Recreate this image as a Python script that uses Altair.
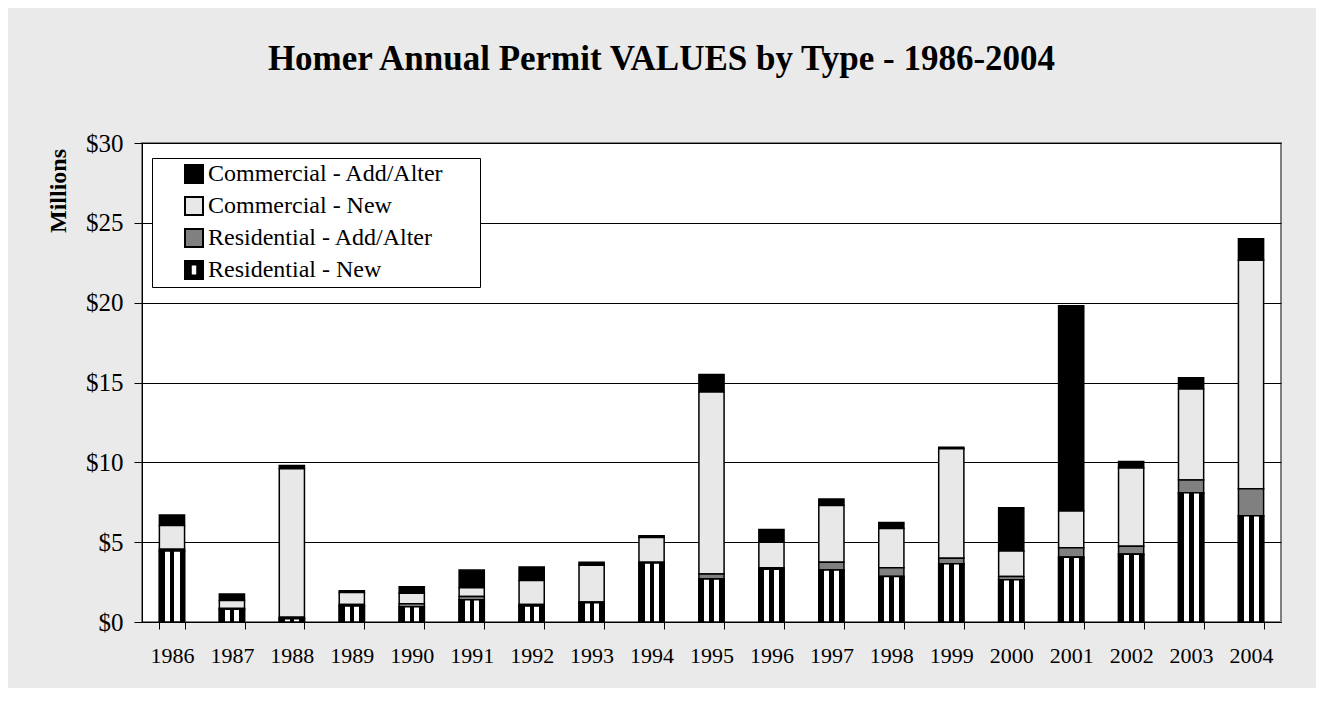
import altair as alt
import pandas as pd

years = [str(y) for y in range(1986, 2005)]
res_new = [4.45, 0.8, 0.2, 1.0, 0.95, 1.4, 1.0, 1.2, 3.7, 2.7, 3.3, 3.25, 2.85, 3.65, 2.65, 4.05, 4.25, 8.1, 6.65]
res_add = [0.1, 0.05, 0.1, 0.1, 0.2, 0.2, 0.1, 0.05, 0.05, 0.3, 0.1, 0.5, 0.55, 0.35, 0.2, 0.6, 0.5, 0.8, 1.7]
com_new = [1.5, 0.5, 9.3, 0.75, 0.65, 0.55, 1.5, 2.3, 1.55, 11.4, 1.6, 3.55, 2.45, 6.85, 1.6, 2.3, 4.9, 5.7, 14.3]
com_add = [0.65, 0.4, 0.2, 0.1, 0.4, 1.1, 0.85, 0.2, 0.1, 1.1, 0.8, 0.4, 0.38, 0.1, 2.7, 12.85, 0.4, 0.7, 1.35]

series = ["Commercial - Add/Alter", "Commercial - New", "Residential - Add/Alter", "Residential - New"]
series_colors = ["#000000", "#e8e8e8", "#808080", "#000000"]
series_edges = ["#000000", "#000000", "#000000", "#000000"]
stack_pos = [3, 2, 1, 0]
series_values = [com_add, com_new, res_add, res_new]

rows = []
for i, yr in enumerate(years):
    for name, order, vals in zip(series, stack_pos, series_values):
        rows.append({"year": yr, "type": name, "value": vals[i], "order": order})
df = pd.DataFrame(rows)

FONT = "Liberation Serif"
HOLE = "M-1,-1H1V1H-1Z M-0.36,-0.62V0.62H0.36V-0.62Z"
series_shapes = ["square", "square", "square", HOLE]

x_enc = alt.X(
    "year:N",
    title=None,
    sort=years,
    scale=alt.Scale(paddingInner=0.58, paddingOuter=0.29),
    axis=alt.Axis(labelAngle=0, tickBand="extent", tickSize=7, labelPadding=16,
                  labelFont=FONT, labelFontSize=22, labelColor="black",
                  domainColor="black", tickColor="black", grid=False),
)
y_enc = alt.Y(
    "value:Q",
    stack="zero",
    scale=alt.Scale(domain=[0, 30]),
    axis=alt.Axis(values=[0, 5, 10, 15, 20, 25, 30], format="$.0f", title="Millions",
                  titleFont=FONT, titleFontSize=24, titleFontWeight="bold", titleColor="black",
                  titleAngle=270, titleX=-84, titleY=47.5, titleAlign="center", titleBaseline="middle",
                  labelFont=FONT, labelFontSize=25, labelColor="black", labelPadding=11,
                  tickSize=8, tickColor="black", domainColor="black",
                  grid=True, gridColor="black", gridWidth=1),
)

legend = alt.Legend(
    title=" ", titleOrient="right", titlePadding=32,
    orient="none", legendX=10, legendY=15, padding=4,
    fillColor="white", strokeColor="black",
    symbolSize=324, symbolStrokeColor="black", symbolStrokeWidth=2, symbolOpacity=1,
    symbolOffset=26, labelOffset=2, labelFont=FONT, labelFontSize=24, labelColor="black",
    rowPadding=6, labelLimit=500,
)

color_scale = alt.Scale(domain=series, range=series_colors)
shape_scale = alt.Scale(domain=series, range=series_shapes)
edge_scale = alt.Scale(domain=series, range=series_edges)

base = alt.Chart(df).mark_bar(stroke="black", strokeWidth=1.5).encode(
    x=x_enc,
    y=y_enc,
    color=alt.Color("type:N", scale=color_scale, legend=legend),
    order=alt.Order("order:Q"),
)

stripes = alt.Gradient(
    gradient="linear", x1=0, x2=1, y1=0, y2=0,
    stops=[
        alt.GradientStop(offset=0, color="black"), alt.GradientStop(offset=0.22, color="black"),
        alt.GradientStop(offset=0.22, color="white"), alt.GradientStop(offset=0.42, color="white"),
        alt.GradientStop(offset=0.42, color="black"), alt.GradientStop(offset=0.6, color="black"),
        alt.GradientStop(offset=0.6, color="white"), alt.GradientStop(offset=0.8, color="white"),
        alt.GradientStop(offset=0.8, color="black"), alt.GradientStop(offset=1, color="black"),
    ],
)

overlay = alt.Chart(df).transform_filter("datum.type === 'Residential - New'").mark_bar(
    fill=stripes, stroke="black", strokeWidth=1.5
).encode(x=x_enc, y=y_enc)

# invisible points whose fill/stroke/shape channels give the legend its symbols
legend_layer = alt.Chart(df).transform_filter("datum.year === '1986'").mark_point(
    filled=True, opacity=0, size=1, strokeWidth=2
).encode(
    x=x_enc,
    y=alt.Y("value:Q"),
    color=alt.Color("type:N", scale=color_scale, legend=legend),
    stroke=alt.Stroke("type:N", scale=edge_scale, legend=legend),
    shape=alt.Shape("type:N", scale=shape_scale, legend=legend),
)

chart = alt.layer(base, overlay, legend_layer).properties(
    width=1139,
    height=479,
    autosize=alt.AutoSizeParams(type="none"),
    padding={"left": 134, "top": 135, "right": 35, "bottom": 66},
    title=alt.TitleParams(
        text="Homer Annual Permit VALUES by Type - 1986-2004",
        font=FONT, fontSize=35, fontWeight="bold", color="black",
        anchor="middle", frame="group", offset=54, dx=-50,
    ),
).configure(background="#eaeaea").configure_view(fill="white", stroke="#808080", strokeWidth=2)

chart.save("out.html", embed_options={"renderer": "svg", "actions": False})
